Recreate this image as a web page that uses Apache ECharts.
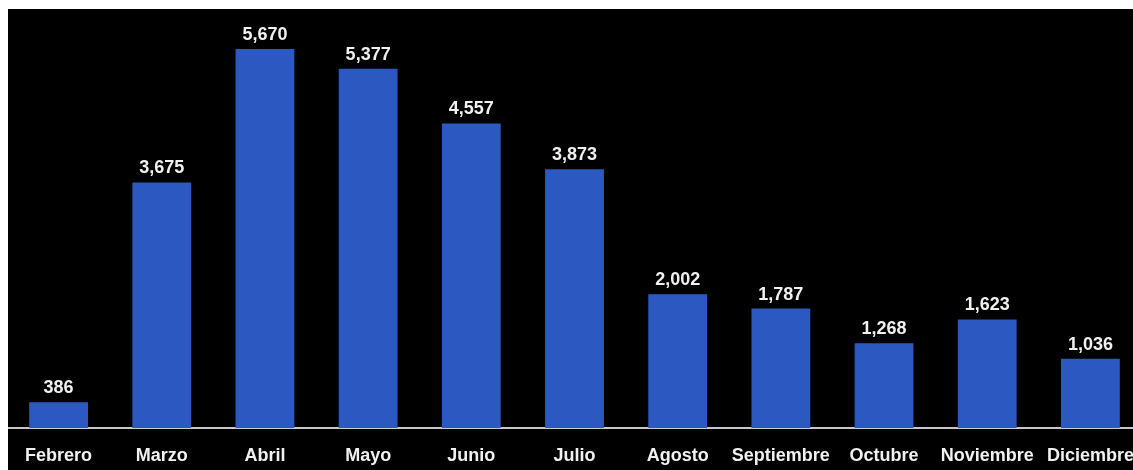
<!DOCTYPE html>
<html>
<head>
<meta charset="utf-8">
<script src="https://cdn.jsdelivr.net/npm/echarts@6/dist/echarts.min.js"></script>
<style>
html,body{margin:0;padding:0;background:#ffffff;width:1133px;height:470px;overflow:hidden;}
#wrap{position:absolute;left:8px;top:9px;width:1125px;height:461px;background:#000;overflow:hidden;}
#chart{position:absolute;left:-1px;top:0;width:1150px;height:461px;}
</style>
</head>
<body>
<div id="wrap"><div id="chart"></div></div>
<script>
const categories = ["Febrero","Marzo","Abril","Mayo","Junio","Julio","Agosto","Septiembre","Octubre","Noviembre","Diciembre"];
const values = [386,3675,5670,5377,4557,3873,2002,1787,1268,1623,1036];

const chart = echarts.init(document.getElementById('chart'), null, {renderer:'canvas'});
chart.setOption({
  backgroundColor: 'transparent',
  animation: false,
  grid: {left: 0, width: 1135, top: 18, bottom: 42, containLabel: false},
  xAxis: {
    type: 'category',
    data: categories,
    axisLine: {show: true, lineStyle: {color: '#c8c8c8', width: 2}},
    axisTick: {show: false},
    axisLabel: {
      color: '#f0f0f0', fontFamily: 'Liberation Sans', fontWeight: 'bold', fontSize: 18,
      margin: 19, interval: 0
    }
  },
  yAxis: {
    type: 'value', min: 0, max: 6000,
    show: false, splitLine: {show: false}
  },
  series: [{
    type: 'bar',
    data: values,
    barWidth: '57%',
    itemStyle: {color: '#2b59c1'},
    label: {
      show: true, position: 'top', distance: 5,
      color: '#f0f0f0', fontFamily: 'Liberation Sans', fontWeight: 'bold', fontSize: 18,
      formatter: p => p.value.toLocaleString('en-US')
    }
  }]
});
</script>
</body>
</html>
